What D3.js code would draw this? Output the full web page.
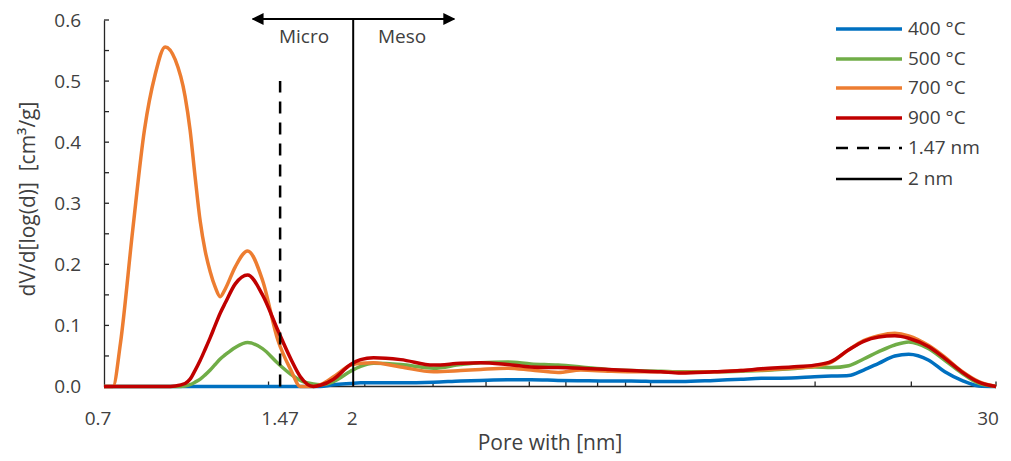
<!DOCTYPE html>
<html>
<head>
<meta charset="utf-8">
<title>Pore size distribution</title>
<script src="https://cdn.jsdelivr.net/npm/d3@7"></script>
<style>
  body { margin: 0; background: #fff; }
  svg text { font-family: "Open Sans", sans-serif; fill: #404040; }
</style>
</head>
<body>
<svg width="1011" height="461"></svg>
<script>
// pore width grid [nm]
var poreWidth = [0.7, 0.727, 0.75, 0.79, 0.83, 0.868, 0.906, 0.945, 0.985, 1.006, 1.027, 1.05, 1.072, 1.095, 1.118, 1.142, 1.167, 1.217, 1.282, 1.365, 1.456, 1.538, 1.601, 1.691, 1.741, 1.841, 1.978, 2.063, 2.179, 2.443, 2.807, 3.145, 3.42, 3.83, 4.23, 4.74, 5.22, 5.85, 6.45, 7.31, 7.96, 9.15, 10.25, 11.16, 12.67, 13.97, 15.0, 16.13, 17.18, 18.3, 19.59, 20.77, 22.6, 24.18, 25.97, 27.9, 30];

var s400 = [0, 0, 0, 0, 0, 0, 0, 0, 0, 0, 0, 0, 0, 0, 0, 0, 0, 0, 0, 0, 0, 0, 0, 0, 0, 0.003, 0.005, 0.006, 0.006, 0.006, 0.007, 0.009, 0.010, 0.011, 0.011, 0.010, 0.0095, 0.009, 0.009, 0.008, 0.008, 0.010, 0.012, 0.0134, 0.014, 0.016, 0.017, 0.018, 0.027, 0.038, 0.050, 0.053, 0.043, 0.024, 0.010, 0.001, 0];
var s500 = [0, 0, 0, 0, 0, 0, 0, 0, 0.001, 0.003, 0.007, 0.012, 0.019, 0.027, 0.036, 0.045, 0.052, 0.064, 0.072, 0.062, 0.038, 0.020, 0.010, 0.004, 0.003, 0.008, 0.025, 0.033, 0.038, 0.036, 0.030, 0.036, 0.039, 0.040, 0.037, 0.035, 0.032, 0.028, 0.026, 0.025, 0.024, 0.024, 0.025, 0.026, 0.029, 0.032, 0.031, 0.034, 0.045, 0.057, 0.068, 0.073, 0.062, 0.043, 0.022, 0.005, 0];
var s700 = [0, 0, 0.07, 0.256, 0.42, 0.51, 0.556, 0.535, 0.475, 0.42, 0.345, 0.27, 0.222, 0.188, 0.163, 0.147, 0.16, 0.196, 0.222, 0.174, 0.076, 0.027, 0, 0, 0.003, 0.016, 0.035, 0.038, 0.039, 0.032, 0.024, 0.026, 0.028, 0.030, 0.027, 0.023, 0.027, 0.025, 0.024, 0.024, 0.023, 0.024, 0.026, 0.027, 0.030, 0.033, 0.040, 0.060, 0.075, 0.083, 0.087, 0.083, 0.067, 0.048, 0.025, 0.008, 0];
var s900 = [0, 0, 0, 0, 0, 0, 0, 0.001, 0.005, 0.012, 0.026, 0.043, 0.061, 0.08, 0.10, 0.12, 0.137, 0.168, 0.1826, 0.15, 0.092, 0.045, 0.016, 0, 0.002, 0.012, 0.036, 0.044, 0.047, 0.044, 0.035, 0.038, 0.039, 0.036, 0.032, 0.031, 0.030, 0.028, 0.026, 0.024, 0.022, 0.024, 0.026, 0.029, 0.032, 0.035, 0.041, 0.060, 0.074, 0.081, 0.083, 0.079, 0.065, 0.046, 0.024, 0.007, 0];

var seriesNames = ['400 °C', '500 °C', '700 °C', '900 °C'];
var seriesColors = ['#0070C0', '#70AD47', '#ED7D31', '#C00000'];
var seriesValues = [s400, s500, s700, s900];

var xTickLabels = [0.7, 1.47, 2, 30];
var xLabelShift = [-6, 0, -1, -8];
var xTickMarks = [1.4, 2.1, 2.8, 3.5, 4.2, 4.9, 5.6, 6.3, 7, 14, 21, 30];
var yTicks = [0, 0.1, 0.2, 0.3, 0.4, 0.5, 0.6];
var yMinor = [0.05, 0.15, 0.25, 0.35, 0.45, 0.55];

var svg = d3.select('svg');

var x = d3.scaleLog().domain([0.7, 30]).range([104, 996]);
var y = d3.scaleLinear().domain([0, 0.6]).range([386.5, 20]);

// y axis
var yAxis = d3.axisLeft(y).tickValues(yTicks).tickSize(0).tickPadding(23).tickFormat(d3.format('.1f'));
var gy = svg.append('g').attr('transform', 'translate(104,0)').call(yAxis);
gy.select('.domain').attr('stroke', '#262626').attr('stroke-width', 1.3);
gy.selectAll('text').style('font-size', '19px').attr('fill', '#404040');
svg.selectAll('ytk')
  .data(yTicks.concat(yMinor))
  .enter()
  .append('line')
  .attr('x1', 104).attr('x2', 109)
  .attr('y1', function(d){ return y(d); })
  .attr('y2', function(d){ return y(d); })
  .attr('stroke', '#262626').attr('stroke-width', 1.3);

// x axis
svg.append('line')
  .attr('x1', x(0.7)).attr('x2', x(30))
  .attr('y1', y(0)).attr('y2', y(0))
  .attr('stroke', '#262626').attr('stroke-width', 1.3);
svg.selectAll('xtk')
  .data(xTickMarks)
  .enter()
  .append('line')
  .attr('x1', function(d){ return x(d); })
  .attr('x2', function(d){ return x(d); })
  .attr('y1', y(0)).attr('y2', y(0) - 5)
  .attr('stroke', '#262626').attr('stroke-width', 1.3);
svg.selectAll('xlab')
  .data(xTickLabels)
  .enter()
  .append('text')
  .text(function(d){ return d; })
  .attr('x', function(d, i){ return x(d) + xLabelShift[i]; })
  .attr('y', 425)
  .attr('text-anchor', 'middle')
  .style('font-size', '19px');

// axis titles
svg.append('text')
  .text('Pore with [nm]')
  .attr('x', 550).attr('y', 450)
  .attr('text-anchor', 'middle')
  .style('font-size', '21px');
svg.append('text')
  .text('dV/d[log(d)]\u00A0\u00A0[cm³/g]')
  .attr('transform', 'translate(35,199) rotate(-90)')
  .attr('text-anchor', 'middle')
  .style('font-size', '21px');

// series
var line = d3.line()
  .x(function(d, i){ return x(poreWidth[i]); })
  .y(function(d){ return y(d); })
  .curve(d3.curveMonotoneX);

for (var k = 0; k < seriesValues.length; k++) {
  svg.append('path')
    .attr('d', line(seriesValues[k]))
    .attr('fill', 'none')
    .attr('stroke', seriesColors[k])
    .attr('stroke-width', 3.5)
    .attr('stroke-linejoin', 'round');
}

// reference lines
svg.append('line')
  .attr('x1', x(1.47)).attr('x2', x(1.47))
  .attr('y1', y(0)).attr('y2', y(0.5))
  .attr('stroke', '#000').attr('stroke-width', 2.5)
  .attr('stroke-dasharray', '12,9');
svg.append('line')
  .attr('x1', x(2)).attr('x2', x(2))
  .attr('y1', y(0)).attr('y2', y(0.6) - 1)
  .attr('stroke', '#000').attr('stroke-width', 2);

// micro / meso arrow
var defs = svg.append('defs');
defs.append('marker')
  .attr('id', 'ah')
  .attr('viewBox', '0 0 10 10')
  .attr('refX', 9).attr('refY', 5)
  .attr('markerWidth', 6).attr('markerHeight', 6)
  .attr('markerUnits', 'strokeWidth')
  .attr('orient', 'auto-start-reverse')
  .append('path')
  .attr('d', 'M0,0 L10,5 L0,10 z')
  .attr('fill', '#000');
svg.append('line')
  .attr('x1', x(1.31)).attr('x2', x(3.06))
  .attr('y1', 19).attr('y2', 19)
  .attr('stroke', '#000').attr('stroke-width', 2)
  .attr('marker-start', 'url(#ah)')
  .attr('marker-end', 'url(#ah)');
svg.append('text').text('Micro')
  .attr('x', 304).attr('y', 43).attr('text-anchor', 'middle')
  .style('font-size', '19px');
svg.append('text').text('Meso')
  .attr('x', 402).attr('y', 43).attr('text-anchor', 'middle')
  .style('font-size', '19px');

// legend
var legendNames = seriesNames.concat(['1.47 nm', '2 nm']);
var legendColors = seriesColors.concat(['#000', '#000']);
var legendY = [29, 59, 88, 118, 148, 179];
for (var i = 0; i < legendNames.length; i++) {
  var ll = svg.append('line')
    .attr('x1', 836).attr('x2', 902)
    .attr('y1', legendY[i]).attr('y2', legendY[i])
    .attr('stroke', legendColors[i])
    .attr('stroke-width', i < 4 ? 3.5 : 2.5);
  if (i == 4) ll.attr('stroke-dasharray', '12,9');
  svg.append('text')
    .text(legendNames[i])
    .attr('x', 908).attr('y', legendY[i] + 6)
    .style('font-size', '19px');
}
</script>
</body>
</html>
